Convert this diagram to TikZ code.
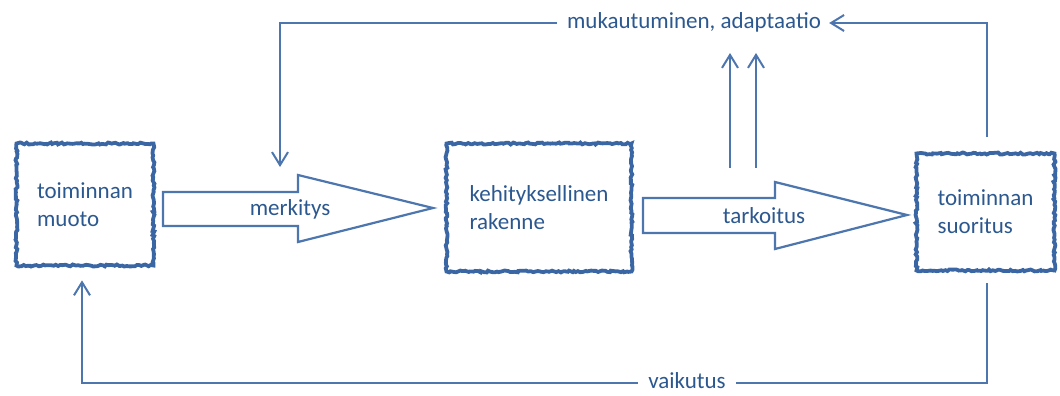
\documentclass[tikz,border=0pt]{standalone}
\usepackage{fontspec}
\setmainfont{Carlito}
\usetikzlibrary{arrows.meta,decorations.pathmorphing,calc}
\definecolor{boxblue}{HTML}{3A66A3}
\definecolor{linecol}{HTML}{4D76AE}
\definecolor{txtcol}{HTML}{2C5890}
\begin{document}
\begin{tikzpicture}[x=1pt,y=-1pt,
  every node/.style={text=txtcol,font=\fontsize{23}{28}\selectfont},
  box/.style={draw=boxblue,line width=3.8pt,decorate,
    decoration={random steps,segment length=2.2pt,amplitude=1pt},
    align=left,inner sep=0pt},
  bigarrow/.style={draw=linecol,line width=2.2pt,fill=white,line join=miter},
  conn/.style={draw=linecol,line width=2pt},
  tip/.style={-{Straight Barb[length=13pt,width=16pt,line width=2pt]}},
  lbl/.style={text height=15pt,text depth=4pt,inner xsep=10pt,inner ysep=0pt},
  lblb/.style={text height=11pt,text depth=0pt,inner xsep=10pt,inner ysep=0pt}]
\useasboundingbox (0,0) rectangle (1060,396);
% boxes
\node[box,minimum width=137pt,minimum height=122pt] (b1) at (85,204.5) {toiminnan\\muoto};
\node[box,minimum width=185pt,minimum height=128pt] (b2) at (539,207.5) {kehityksellinen\\rakenne};
\node[box,minimum width=138pt,minimum height=117pt] (b3) at (985.5,212) {toiminnan\\suoritus};
% big arrows
\draw[bigarrow] (163,192) -- (298,192) -- (298,175) -- (433,208) -- (298,242) -- (298,226) -- (163,226) -- cycle;
\node (merk) at (290,209) {merkitys};
\draw[bigarrow] (643,198) -- (775,198) -- (775,182) -- (907,215) -- (775,249) -- (775,233) -- (643,233) -- cycle;
\node (tark) at (764,216) {tarkoitus};
% loop labels
\node[lbl] (muk) at (694,23) {mukautuminen, adaptaatio};
\node[lblb] (vaik) at (687,383) {vaikutus};
\coordinate (mtop) at (280,167);
\coordinate (u1a) at (730,168);
\coordinate (u1b) at (730,53);
\coordinate (u2a) at (756,168);
\coordinate (u2b) at (756,53);
% connectors
\draw[conn,tip] ([xshift=1.5pt,yshift=15pt]b3.north) |- ([xshift=-2pt]muk.east);
\draw[conn,tip] (muk.west) -| (mtop);
\draw[conn] ([xshift=1.5pt,yshift=-11pt]b3.south) |- (vaik.east);
\draw[conn,tip] (vaik.west) -| ([xshift=-3pt,yshift=-13pt]b1.south);
\draw[conn,tip] (u1a) -- (u1b);
\draw[conn,tip] (u2a) -- (u2b);
\end{tikzpicture}
\end{document}
